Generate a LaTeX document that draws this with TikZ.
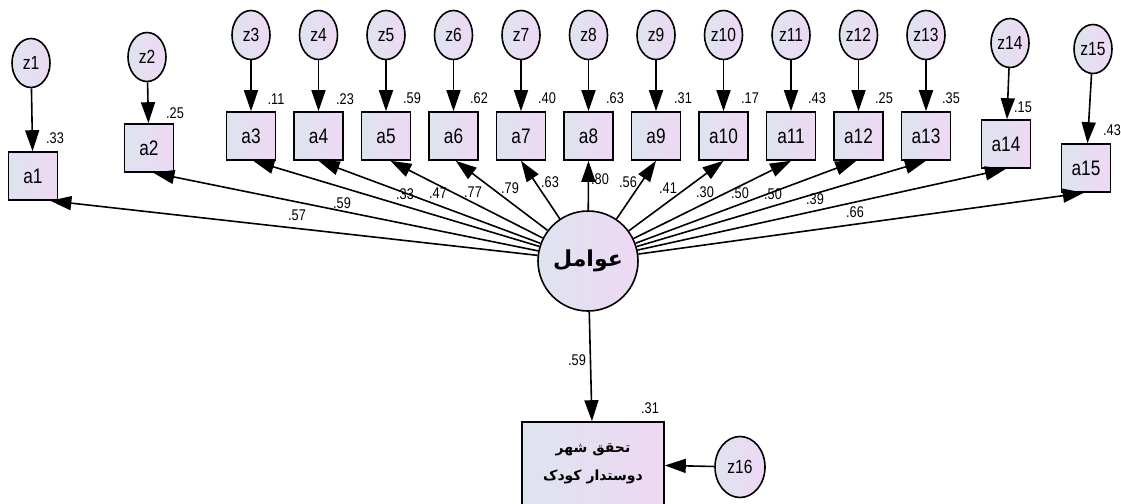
\documentclass[tikz,border=0pt]{standalone}
\usepackage{fontspec}
\setmainfont{Liberation Sans}[FakeStretch=0.82]
\newfontfamily\arabicfont[Script=Arabic]{DejaVu Sans}
\TeXXeTstate=1
\usetikzlibrary{arrows.meta,shapes.geometric}
\definecolor{fillL}{RGB}{222,228,238}
\definecolor{fillR}{RGB}{238,216,244}
\tikzset{
 obs/.style={draw, line width=1.6pt, minimum width=49pt, minimum height=48pt, left color=fillL, right color=fillR, font=\fontsize{21}{21}\selectfont, inner sep=0pt},
 err/.style={ellipse, draw, line width=1.6pt, minimum width=38pt, minimum height=49pt, left color=fillL, right color=fillR, font=\fontsize{19}{19}\selectfont, inner sep=0pt},
 arr/.style={line width=1.6pt, -{Triangle[length=21pt,width=14pt]}},
 val/.style={font=\fontsize{15.5}{15.5}\selectfont, inner sep=0pt},
}
\begin{document}
\begin{tikzpicture}[x=1pt,y=-1pt]
\useasboundingbox (0,0) rectangle (1121,503);
\clip (0,0) rectangle (1121,503);
% factor
\node[circle, draw, line width=1.6pt, minimum size=100pt, left color=fillL, right color=fillR, font=\arabicfont\bfseries\fontsize{22}{22}\selectfont] (F) at (588,261) {\beginR عوامل\endR};
% observed and errors
\node[err] (z1) at (31,63) {z1};
\node[obs] (a1) at (33,176) {a1};
\node[err] (z2) at (147,57) {z2};
\node[obs] (a2) at (149,148) {a2};
\foreach \i/\x in {3/251,4/318.5,5/386,6/453.5,7/521,8/588.5,9/656,10/723.5,11/791,12/858.5,13/926}{
  \node[err] (z\i) at (\x,35) {z\i};
  \node[obs] (a\i) at (\x,136) {a\i};
}
\node[err] (z14) at (1010,43) {z14};
\node[obs] (a14) at (1006,144) {a14};
\node[err] (z15) at (1093,49) {z15};
\node[obs] (a15) at (1086,168) {a15};
\foreach \i in {1,...,15}{ \draw[arr] (z\i) -- (a\i); }
% loadings
\draw[arr] (F) -- (a1.-55);
\draw[arr] (F) -- (a2.-80);
\draw[arr] (F) -- (a3.-85);
\draw[arr] (F) -- (a4.south);
\draw[arr] (F) -- (a5.-80);
\draw[arr] (F) -- (a6.-85);
\draw[arr] (F) -- (a7.south);
\draw[arr] (F) -- (a8.south);
\draw[arr] (F) -- (a9.south);
\draw[arr] (F) -- (a10.south);
\draw[arr] (F) -- (a11.south);
\draw[arr] (F) -- (a12.-95);
\draw[arr] (F) -- (a13.south);
\draw[arr] (F) -- (a14.south);
\draw[arr] (F) -- (a15.-95);
% squared multiple correlations
\node[val] (r1) at (55,138) {.33};
\node[val] (r2) at (175,113) {.25};
\node[val] (r3) at (276,99) {.11};
\node[val] (r4) at (345,99) {.23};
\node[val] (r5) at (412,98) {.59};
\node[val] (r6) at (479,98) {.62};
\node[val] (r7) at (547,98) {.40};
\node[val] (r8) at (615,98) {.63};
\node[val] (r9) at (683,98) {.31};
\node[val] (r10) at (750,98) {.17};
\node[val] (r11) at (817,98) {.43};
\node[val] (r12) at (884,98) {.25};
\node[val] (r13) at (951,98) {.35};
\node[val] (r14) at (1023,107) {.15};
\node[val] (r15) at (1112,130) {.43};
% loading labels
\node[val] (l1) at (297,215) {.57};
\node[val] (l2) at (342,203) {.59};
\node[val] (l3) at (405,194) {.33};
\node[val] (l4) at (438,193) {.47};
\node[val] (l5) at (473,192) {.77};
\node[val] (l6) at (510,188) {.79};
\node[val] (l7) at (550,182) {.63};
\node[val] (l8) at (600,179) {.80};
\node[val] (l9) at (628,182) {.56};
\node[val] (l10) at (668,188) {.41};
\node[val] (l11) at (705,192) {.30};
\node[val] (l12) at (740,193) {.50};
\node[val] (l13) at (773,194) {.50};
\node[val] (l14) at (815,199) {.39};
\node[val] (l15) at (855,212) {.66};
% outcome
\node[draw, line width=1.6pt, minimum width=142pt, minimum height=84pt, left color=fillL, right color=fillR, align=center, font=\arabicfont\bfseries\fontsize{14}{28}\selectfont] (Y) at (593,464) {\beginR تحقق شهر\endR\\\beginR دوستدار کودک\endR};
\node[err, minimum width=50pt, minimum height=61pt] (z16) at (740,467) {z16};
\draw[arr] (F) -- (Y);
\draw[arr] (z16) -- (Y);
\node[val] (lY) at (577,360) {.59};
\node[val] (rY) at (650,408) {.31};
\end{tikzpicture}
\end{document}
